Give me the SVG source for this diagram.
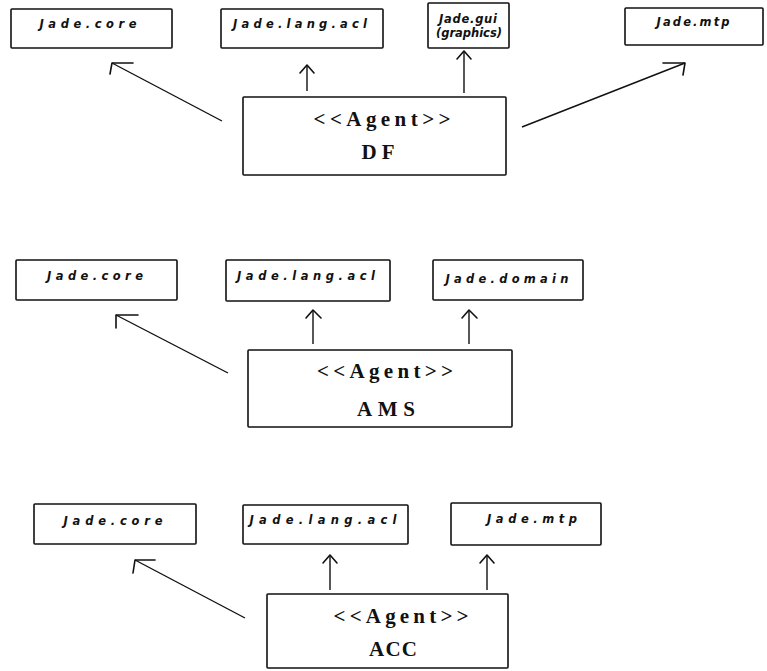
<svg xmlns="http://www.w3.org/2000/svg" width="767" height="671" viewBox="0 0 767 671">
  <style>
    .box { fill: #fff; stroke: #111; stroke-width: 1.6; }
    .pkg { font-family: "DejaVu Sans", "Liberation Sans", sans-serif; font-weight: bold; font-style: italic; font-size: 11.5px; fill: #111; text-anchor: middle; }
    .agent { font-family: "Liberation Serif", "Times New Roman", serif; font-weight: bold; font-size: 21px; fill: #111; text-anchor: middle; }
    .link { fill: none; stroke: #111; stroke-width: 1.4; }
    .head { fill: none; stroke: #111; stroke-width: 1.6; stroke-linecap: round; stroke-linejoin: round; }
  </style>
  <rect width="767" height="671" fill="#fff"/>

  <!-- DF agent and its packages -->
  <g id="df-core"><rect class="box" x="11" y="9" width="161" height="39" rx="1"/><text class="pkg" x="88" y="28" textLength="97" lengthAdjust="spacing">Jade.core</text></g>
  <g id="df-acl"><rect class="box" x="221" y="9" width="162" height="39" rx="1"/><text class="pkg" x="300" y="28" textLength="134" lengthAdjust="spacing">Jade.lang.acl</text></g>
  <g id="df-gui"><rect class="box" x="428" y="3" width="81" height="45" rx="1"/><text class="pkg" x="468" y="23" textLength="58" lengthAdjust="spacing">Jade.gui</text><text class="pkg" x="469" y="37" textLength="66" lengthAdjust="spacing">(graphics)</text></g>
  <g id="df-mtp"><rect class="box" x="625" y="8" width="138" height="37" rx="1"/><text class="pkg" x="693" y="26" textLength="73" lengthAdjust="spacing">Jade.mtp</text></g>
  <g id="df"><rect class="box" x="243" y="97" width="263" height="78" rx="1"/><text class="agent" x="382" y="126" textLength="137" lengthAdjust="spacing">&lt;&lt;Agent&gt;&gt;</text><text class="agent" x="378" y="159" textLength="33" lengthAdjust="spacing">DF</text></g>

  <!-- AMS agent and its packages -->
  <g id="ams-core"><rect class="box" x="16" y="260" width="161" height="40" rx="1"/><text class="pkg" x="95" y="280" textLength="96" lengthAdjust="spacing">Jade.core</text></g>
  <g id="ams-acl"><rect class="box" x="226" y="260" width="164" height="41" rx="1"/><text class="pkg" x="306" y="280" textLength="138" lengthAdjust="spacing">Jade.lang.acl</text></g>
  <g id="ams-domain"><rect class="box" x="433" y="260" width="150" height="40" rx="1"/><text class="pkg" x="507" y="283" textLength="123" lengthAdjust="spacing">Jade.domain</text></g>
  <g id="ams"><rect class="box" x="248" y="350" width="264" height="77" rx="1"/><text class="agent" x="385" y="378" textLength="136" lengthAdjust="spacing">&lt;&lt;Agent&gt;&gt;</text><text class="agent" x="386" y="416" textLength="58" lengthAdjust="spacing">AMS</text></g>

  <!-- ACC agent and its packages -->
  <g id="acc-core"><rect class="box" x="34" y="504" width="162" height="40" rx="1"/><text class="pkg" x="113" y="525" textLength="99" lengthAdjust="spacing">Jade.core</text></g>
  <g id="acc-acl"><rect class="box" x="243" y="505" width="165" height="39" rx="1"/><text class="pkg" x="323" y="524" textLength="147" lengthAdjust="spacing">Jade.lang.acl</text></g>
  <g id="acc-mtp"><rect class="box" x="451" y="503" width="150" height="42" rx="1"/><text class="pkg" x="532" y="523" textLength="90" lengthAdjust="spacing">Jade.mtp</text></g>
  <g id="acc"><rect class="box" x="267" y="594" width="241" height="74" rx="1"/><text class="agent" x="401" y="623" textLength="135" lengthAdjust="spacing">&lt;&lt;Agent&gt;&gt;</text><text class="agent" x="393" y="656" textLength="48" lengthAdjust="spacing">ACC</text></g>

  <!-- dependency connectors -->
  <g id="connectors">
    <path class="link" d="M222 121 L112 63"/>
    <path class="head" d="M133 63 L112 63 L110 74"/>
    <path class="link" d="M307 91 L307 65"/>
    <path class="head" d="M300 73 L307 65 L314 73"/>
    <path class="link" d="M464 93 L464 51"/>
    <path class="head" d="M457 59 L464 51 L471 59"/>
    <path class="link" d="M522 127 L685 63"/>
    <path class="head" d="M663 63 L685 63 L683 75"/>

    <path class="link" d="M228 373 L116 315"/>
    <path class="head" d="M138 315 L116 315 L116 328"/>
    <path class="link" d="M313 344 L313 310"/>
    <path class="head" d="M306 318 L313 310 L321 318"/>
    <path class="link" d="M469 344 L469 310"/>
    <path class="head" d="M462 318 L469 310 L477 318"/>

    <path class="link" d="M245 618 L135 560"/>
    <path class="head" d="M155 560 L135 560 L133 573"/>
    <path class="link" d="M330 590 L330 555"/>
    <path class="head" d="M323 563 L330 555 L337 563"/>
    <path class="link" d="M487 590 L487 555"/>
    <path class="head" d="M480 563 L487 555 L494 563"/>
  </g>
</svg>
